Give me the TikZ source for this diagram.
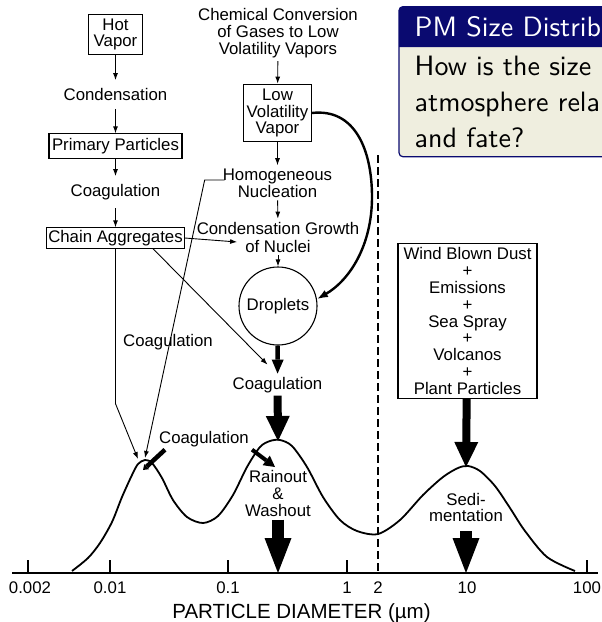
\documentclass[tikz,border=0pt]{standalone}
\usepackage{fontspec}
\newfontfamily\figfont{Liberation Sans}
\newfontfamily\blkfont{lmsans10-regular.otf}
\usetikzlibrary{arrows.meta,positioning,backgrounds}
\definecolor{blknavy}{RGB}{10,10,112}
\definecolor{blkbeige}{HTML}{EFEEDF}

\begin{document}
\begin{tikzpicture}[
  x=1pt, y=-1pt,
  font=\figfont\fontsize{16.8}{16.8}\selectfont,
  box/.style     = {draw, line width=1.1pt, align=center, inner xsep=3pt, inner ysep=4.3pt},
  lbl/.style     = {align=center, inner sep=3pt},
  colbl/.style   = {lbl, inner ysep=8pt},
  thinar/.style  = {-{Latex[length=7pt,width=5pt]}, line width=.9pt},
  curvar/.style  = {-{Latex[length=11pt,width=8pt]}, line width=2.4pt},
  stubar/.style  = {-{Triangle[length=5pt,width=7pt,line width=0pt]}, line width=4.5pt},
  washar/.style  = {-{Triangle[length=11pt,width=12pt,line width=0pt]}, line width=4pt},
  dropar/.style  = {-{Triangle[length=14pt,width=12pt,line width=0pt]}, line width=4.5pt},
  peakar/.style  = {-{Triangle[length=25pt,width=24pt,line width=0pt]}, line width=8pt},
  sinkar/.style  = {-{Triangle[length=35pt,width=27pt,line width=0pt]}, line width=11.5pt},
  blk/.style     = {font=\blkfont\fontsize{28}{36}\selectfont, align=left,
                    text width=230pt, inner xsep=15.5pt},
]
\useasboundingbox (0,0) rectangle (602,622);

% ── left column: hot vapour route ─────────────────────────────────────
\node[box, inner xsep=5.5pt] (hot) at (115.5,34.5) {Hot\\Vapor};
\node[colbl, anchor=base] (cond) at (115.5,100.5) {Condensation};
\node[box] (prim) at (115.5,146) {Primary Particles};
\node[colbl, anchor=base] (coagA) at (115.5,196.5) {Coagulation};
\node[box, inner xsep=1.5pt, inner ysep=2.3pt] (chain) at (115.5,238) {Chain Aggregates};

\draw[thinar] (hot) -- (cond);
\draw[thinar] (cond) -- (prim);
\draw[thinar] (prim) -- (coagA);
\draw[thinar] (coagA) -- (chain);

% ── middle column: low volatility vapour route ────────────────────────
\node[lbl] (chem) at (278,33.3) {Chemical Conversion\\of Gases to Low\\Volatility Vapors};
\node[box, inner ysep=4.5pt] (lowvol) at (277.5,113) {Low\\Volatility\\Vapor};
\node[lbl, anchor=base] (nucA) at (277.5,180) {Homogeneous};
\node[lbl, anchor=base] (nucB) at (277.5,197) {Nucleation};
\node[lbl, anchor=base] (growA) at (278,234) {Condensation Growth};
\node[lbl, anchor=base] (growB) at (278,252) {of Nuclei};
\node[circle, draw, line width=1.1pt, minimum size=78pt, inner sep=0pt] (drop) at (278,306) {Droplets};
\node[lbl, anchor=base] (coagB) at (277.5,389) {Coagulation};
\node[lbl, anchor=base] (coagC) at (168,346.5) {Coagulation};

\draw[thinar] (chem) -- (lowvol);
\draw[thinar] (lowvol) -- (nucA);
\draw[thinar] (nucB) -- (growA);
\draw[thinar] (growB) -- (drop);
\draw[curvar] (lowvol.east) .. controls (355,108) and (372,150) .. (372,197)
              .. controls (372,245) and (350,280) .. (drop.10);
\draw[thinar] (chain.east) -- ([xshift=-5pt,yshift=4pt]growB.west);
\draw[thinar] ([xshift=37.5pt]chain.south) -- ([xshift=-10pt,yshift=9pt]coagB.north);

% ── right column: coarse sources ──────────────────────────────────────
\node[box, inner xsep=5.5pt, inner ysep=3.8pt] (wind) at (467.5,321)
     {Wind Blown Dust\\+\\Emissions\\+\\Sea Spray\\+\\Volcanos\\+\\Plant Particles};

% ── distribution curve and axis ───────────────────────────────────────
\coordinate (pkB) at (278,441);
\coordinate (pkC) at (466,467);
\coordinate (tipA) at (138,459);
\coordinate (tipB) at (145,458);
\coordinate (tipC) at (143,470);
\coordinate (tipD) at (275,467);
\coordinate (axR) at (278,573);
\coordinate (axS) at (466,573);

\draw[line width=1.4pt] (12,573) -- (598,573);
\foreach \x in {28,110,228,347,587}
  \draw[line width=1.2pt] (\x,573) -- (\x,560);
\foreach \x/\t [count=\i] in {30/0.002,110/0.01,228/0.1,347/1,378/2,467/10,587/100}
  \node[lbl, anchor=base] (tick\i) at (\x,593) {\t};
\node[lbl, anchor=base, font=\figfont\fontsize{20.5}{22}\selectfont] (axtitle) at (301.5,618)
     {PARTICLE DIAMETER (µm)};
\draw[line width=1.1pt, dash pattern=on 8pt off 4pt] (378,155) -- (378,573);

\draw[line width=1.8pt] plot[smooth, tension=.5] coordinates {
  (72,571) (88,558) (100,543) (112,522) (122,497) (132,475) (138,464) (145,460)
  (152,463) (162,478) (173,500) (187,517) (203,523) (218,516) (233,495) (247,467)
  (260,447) (270,441) (280,440) (292,446) (307,467) (323,497) (340,520) (357,531)
  (378,534) (400,520) (423,495) (443,477) (458,468) (468,466) (480,471) (495,486)
  (510,508) (525,531) (547,557) (575,571)};

\node[lbl] (rain) at (278,493.5) {Rainout\\\&\\Washout};
\node[lbl] (sedi) at (466,507.5) {Sedi-\\mentation};
\node[lbl, anchor=base] (coagD) at (204,443) {Coagulation};

\draw[thinar] (chain.south) -- ++(0,155) -- (tipA);
\draw[thinar] ([xshift=5pt]nucA.base west) -- ++(-20,0) -- (tipB);
\draw[stubar] ([xshift=9pt]coagD.south west) -- (tipC);
\draw[washar] (coagD.south east) -- (tipD);
\draw[dropar] (drop) -- (coagB);
\draw[peakar] (coagB) -- (pkB);
\draw[peakar] (wind) -- (pkC);
\draw[sinkar] (rain) -- (axR);
\draw[sinkar, shorten <=6pt] (sedi) -- (axS);

% ── question block (slide overlay) ────────────────────────────────────
\node[blk, anchor=north west, inner ysep=8.8pt] (qbody) at (399,47)
     {How is the size\\atmosphere rela\\and fate?};
\node[blk, anchor=south west, text=white, minimum height=40pt, inner ysep=0pt] (qhead)
     at (qbody.north west) {PM Size Distrib};

\begin{scope}[on background layer]
  \draw[blknavy, line width=1.2pt, fill=blkbeige, rounded corners=4pt]
       (qhead.north west) rectangle (qbody.south east);
  \fill[blknavy] (qhead.south west) [rounded corners=4pt] -- (qhead.north west)
       -- (qhead.north east) [sharp corners] -- (qhead.south east) -- cycle;
\end{scope}
\end{tikzpicture}
\end{document}
